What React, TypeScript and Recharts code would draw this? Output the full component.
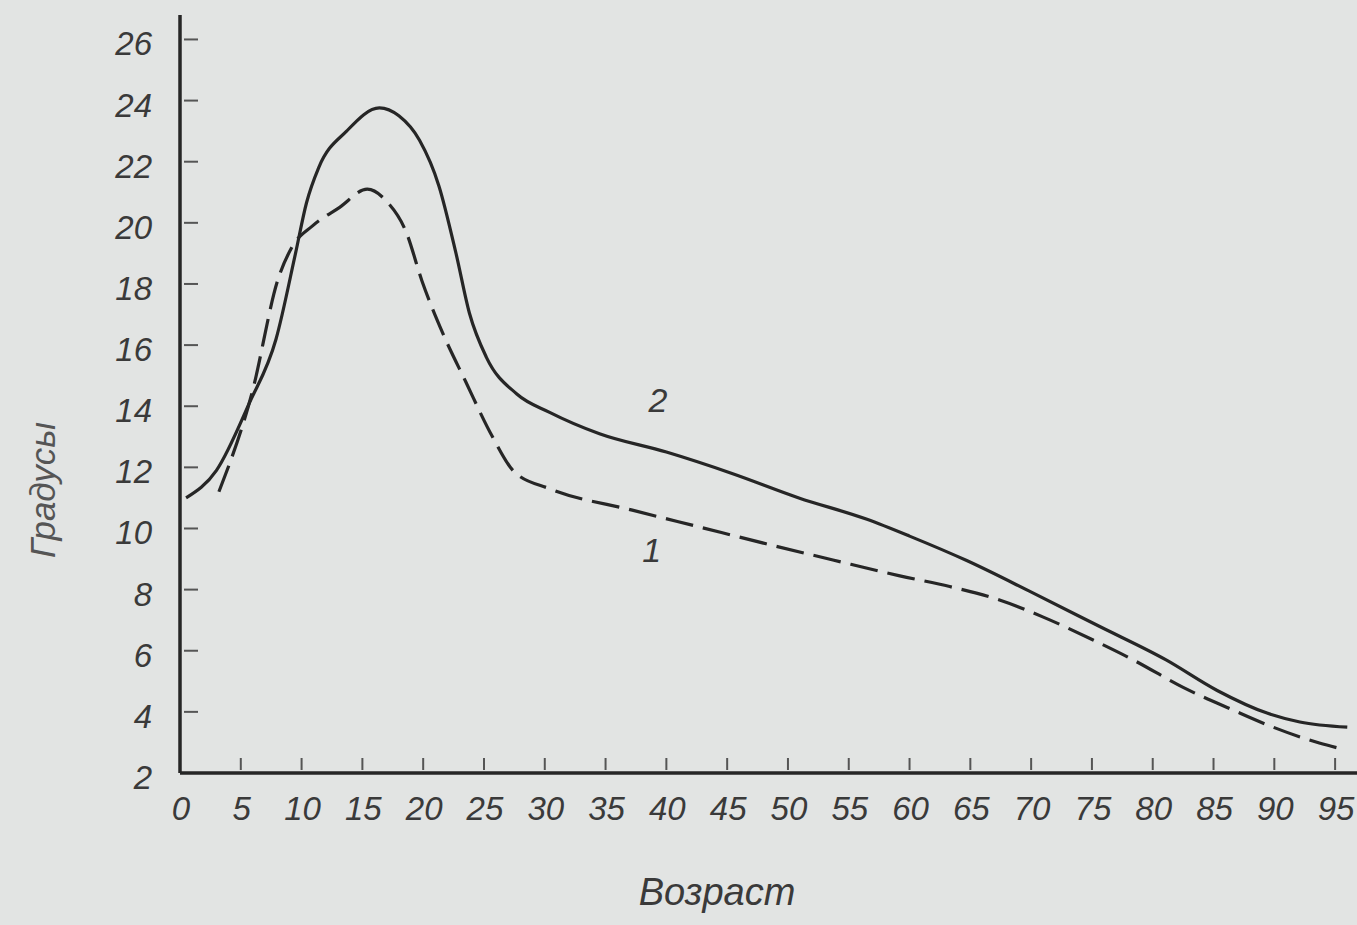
import React from 'react';
import { LineChart, Line, XAxis, YAxis, ReferenceDot } from 'recharts';

// Age (years) and angle (degrees) readings for the two curves
const curve2Age = [0.5, 3, 5.7, 7.9, 9.5, 10.4, 11.4, 13.7, 16.4, 18, 19.7, 21.3, 22.7, 23.8, 25.2, 27.7, 30.4, 34.5, 40, 45.4, 50.9, 56.5, 60, 64.7, 70.1, 75.6, 81.1, 85.3, 89.4, 92.1, 96];
const curve2Deg = [11.0, 11.9, 14.1, 16.2, 19.0, 20.65, 21.8, 23.0, 23.76, 23.5, 22.7, 21.2, 19.0, 17.05, 15.6, 14.4, 13.8, 13.1, 12.5, 11.8, 11.0, 10.3, 9.75, 8.95, 7.9, 6.8, 5.7, 4.7, 3.96, 3.67, 3.5];

const curve1Age = [3.2, 5.9, 8.1, 9.2, 10.9, 13.1, 15.4, 17.0, 18.6, 19.9, 21.6, 23.5, 25.7, 27.5, 30.4, 37.2, 42.7, 48.2, 53.7, 59.2, 63.3, 67.4, 71, 75.1, 78.4, 82.5, 86.6, 89.9, 93.7, 95.4];
const curve1Deg = [11.2, 14.4, 18.2, 19.2, 19.9, 20.5, 21.1, 20.7, 19.7, 18.1, 16.4, 14.8, 13.0, 11.85, 11.3, 10.6, 10.05, 9.5, 8.97, 8.45, 8.1, 7.66, 7.1, 6.35, 5.7, 4.8, 4.06, 3.5, 2.98, 2.8];

const xTicks = [0, 5, 10, 15, 20, 25, 30, 35, 40, 45, 50, 55, 60, 65, 70, 75, 80, 85, 90, 95];
const yTicks = [2, 4, 6, 8, 10, 12, 14, 16, 18, 20, 22, 24, 26];

const curve1 = curve1Age.map((age, i) => ({ age, deg: curve1Deg[i] }));
const curve2 = curve2Age.map((age, i) => ({ age, deg: curve2Deg[i] }));

const INK = '#262626';
const TEXT = '#3a3a3a';
const FONT = '"Liberation Sans", "DejaVu Sans", sans-serif';

const YTick = (props: any) => {
  const { x, y, payload } = props;
  return (
    <g>
      {payload.value !== 2 && (
        <line x1={x + 4} x2={x + 18} y1={y} y2={y} stroke="#555" strokeWidth={2} />
      )}
      <text x={x - 28} y={y + 16} textAnchor="end" fontFamily={FONT} fontStyle="italic" fontSize={33} fill={TEXT}>
        {payload.value}
      </text>
    </g>
  );
};

const XTick = (props: any) => {
  const { x, y, payload } = props;
  return (
    <g>
      {payload.value !== 0 && (
        <line x1={x} x2={x} y1={y - 15} y2={y - 3} stroke="#555" strokeWidth={2} />
      )}
      <text x={x + 1} y={y + 47} textAnchor="middle" fontFamily={FONT} fontStyle="italic" fontSize={33} fill={TEXT}>
        {payload.value}
      </text>
    </g>
  );
};

const YTitle = (props: any) => {
  const vb = props.viewBox;
  const cx = vb.x + vb.width - 138;
  const cy = vb.y + vb.height / 2 + 96;
  return (
    <text x={cx} y={cy} transform={`rotate(-90 ${cx} ${cy})`} textAnchor="middle" dominantBaseline="central" fontFamily={FONT} fontStyle="italic" fontSize={35} fill="#555">
      Градусы
    </text>
  );
};

const XTitle = (props: any) => {
  const vb = props.viewBox;
  return (
    <text x={vb.x + 537} y={vb.y + 132} textAnchor="middle" fontFamily={FONT} fontStyle="italic" fontSize={38} fill={TEXT}>
      Возраст
    </text>
  );
};

const CurveLabel = (text: string) => (props: any) => {
  const vb = props.viewBox;
  return (
    <text x={vb.x} y={vb.y + 12} textAnchor="middle" fontFamily={FONT} fontStyle="italic" fontSize={34} fill={TEXT}>
      {text}
    </text>
  );
};

export default function App() {
  return (
    <div style={{ position: 'absolute', left: 0, top: 0, width: 1357, height: 925, background: '#e2e4e3' }}>
      <LineChart width={1357} height={925} margin={{ top: 15, right: 0, bottom: 92, left: 120 }}>
        <XAxis
          type="number"
          dataKey="age"
          domain={[0, 96.8]}
          ticks={xTicks}
          allowDataOverflow
          height={60}
          tickSize={0}
          tickMargin={0}
          tick={<XTick />}
          axisLine={{ stroke: INK, strokeWidth: 3.5 }}
          label={<XTitle />}
        />
        <YAxis
          type="number"
          dataKey="deg"
          domain={[2, 26.8]}
          ticks={yTicks}
          allowDataOverflow
          width={60}
          tickSize={0}
          tickMargin={0}
          tick={<YTick />}
          axisLine={{ stroke: INK, strokeWidth: 3.5 }}
          label={<YTitle />}
        />
        <Line
          data={curve2}
          dataKey="deg"
          type="monotone"
          stroke={INK}
          strokeWidth={3.2}
          dot={false}
          isAnimationActive={false}
        />
        <Line
          data={curve1}
          dataKey="deg"
          type="monotone"
          stroke={INK}
          strokeWidth={3.2}
          strokeDasharray="28 10"
          dot={false}
          isAnimationActive={false}
        />
        <ReferenceDot x={39.3} y={14.2} r={0} fill="none" stroke="none" label={CurveLabel('2')} />
        <ReferenceDot x={38.8} y={9.3} r={0} fill="none" stroke="none" label={CurveLabel('1')} />
      </LineChart>
    </div>
  );
}
